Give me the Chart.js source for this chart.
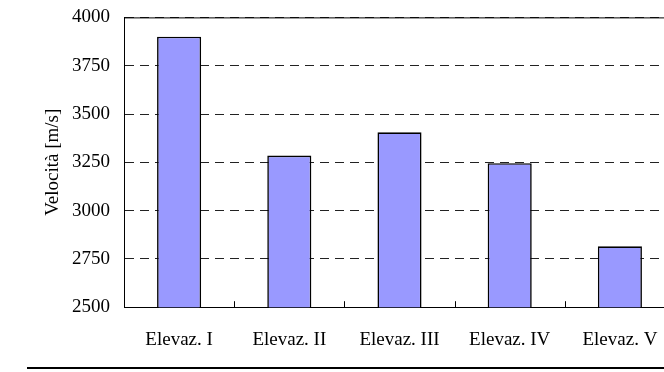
<!DOCTYPE html>
<html>
<head>
<meta charset="utf-8">
<script src="https://cdn.jsdelivr.net/npm/chart.js@4.4.1/dist/chart.umd.min.js"></script>
<style>
    html, body { margin: 0; padding: 0; background: #fff; }
    #wrap { position: relative; width: 664px; height: 372px; overflow: hidden; }
    #box { position: absolute; left: 0; top: -8px; width: 700px; height: 373px; }
    #rule { position: absolute; left: 27px; right: 0; top: 367px; border-top: 2px solid #000; }
</style>
</head>
<body>
<div id="wrap">
    <div id="box"><canvas id="vel-canvas"></canvas></div>
    <div id="rule"></div>
</div>
<script>
// ========== Data
let elevazioni = ['Elevaz. I', 'Elevaz. II', 'Elevaz. III', 'Elevaz. IV', 'Elevaz. V'];
let velocita = [3900, 3285, 3405, 3245, 2815];
let yMin = 2500;
let yMax = 4000;
let yStep = 250;

// ========== Colors
let barColor = '#9999FF';
let lineColor = '#000000';

Chart.defaults.font.family = '"Liberation Serif", "Times New Roman", serif';
Chart.defaults.color = '#000';

// top frame line + short inward ticks between categories
const framePlugin = {
    id: 'frame',
    afterDraw(chart) {
        const ctx = chart.ctx;
        const area = chart.chartArea;
        const xs = chart.scales.x;
        ctx.save();
        ctx.strokeStyle = lineColor;
        ctx.lineWidth = 1;
        ctx.beginPath();
        ctx.moveTo(area.left, area.top + 0.5);
        ctx.lineTo(area.right, area.top + 0.5);
        let half = (xs.getPixelForValue(1) - xs.getPixelForValue(0)) / 2;
        for (let i = 0; i < elevazioni.length; i++) {
            let x = Math.round(xs.getPixelForValue(i) + half) + 0.5;
            ctx.moveTo(x, area.bottom);
            ctx.lineTo(x, area.bottom - 6);
        }
        ctx.stroke();
        ctx.restore();
    }
};

var velCanvas = document.getElementById('vel-canvas');
var barChart = new Chart(velCanvas, {
    type: 'bar',
    data: {
        labels: elevazioni,
        datasets: [{
            data: velocita,
            backgroundColor: barColor,
            borderColor: lineColor,
            borderWidth: 1.6,
            categoryPercentage: 1,
            barPercentage: 0.4
        }]
    },
    options: {
        responsive: true,
        maintainAspectRatio: false,
        animation: false,
        layout: { padding: { left: 0, right: 25, top: 1, bottom: 1 } },
        plugins: {
            legend: { display: false },
            tooltip: { enabled: false }
        },
        scales: {
            x: {
                grid: { display: false },
                border: { display: true, color: lineColor, width: 1 },
                ticks: { font: { size: 19 }, padding: 13, maxRotation: 0 }
            },
            y: {
                min: yMin,
                max: yMax,
                afterFit: (scale) => { scale.width = 124; },
                ticks: {
                    stepSize: yStep,
                    font: { size: 19 },
                    padding: 14,
                    callback: (v) => String(v)
                },
                grid: { color: '#222', lineWidth: 1, drawTicks: false },
                border: { display: true, color: lineColor, width: 1, dash: [9, 6] },
                title: {
                    display: true,
                    text: 'Velocità [m/s]',
                    font: { size: 19 },
                    padding: { top: 42, bottom: 0 }
                }
            }
        }
    },
    plugins: [framePlugin]
});
</script>
</body>
</html>
